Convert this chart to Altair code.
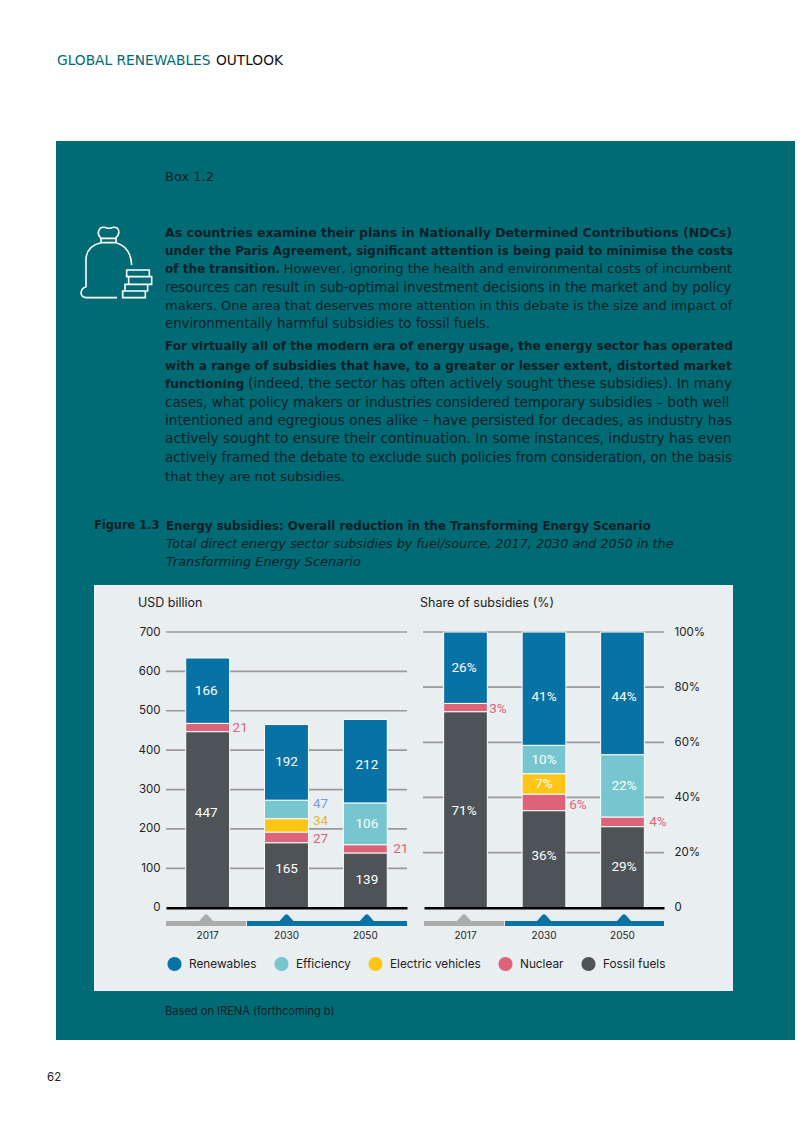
import altair as alt
import pandas as pd

# ---- chart values ----
years = ["2017", "2030", "2050"]
stack_order = ["Fossil fuels", "Nuclear", "Electric vehicles", "Efficiency", "Renewables"]
legend_order = ["Renewables", "Efficiency", "Electric vehicles", "Nuclear", "Fossil fuels"]
legend_colors = ["#0872A5", "#76C6CF", "#FDC515", "#DC6378", "#4D5357"]

usd_fossil = [447, 165, 139]
usd_nuclear = [21, 27, 21]
usd_ev = [0, 34, 0]
usd_efficiency = [0, 47, 106]
usd_renewables = [166, 192, 212]

share_fossil = [71.1, 35.2, 29.4]
share_nuclear = [3.0, 6.0, 3.5]
share_ev = [0, 7.4, 0]
share_efficiency = [0, 10.3, 22.6]
share_renewables = [25.9, 41.1, 44.5]

share_label_fossil = ["71%", "36%", "29%"]
share_label_nuclear = ["3%", "6%", "4%"]
share_label_ev = ["", "7%", ""]
share_label_efficiency = ["", "10%", "22%"]
share_label_renewables = ["26%", "41%", "44%"]

usd_ticks = [0, 100, 200, 300, 400, 500, 600, 700]
share_ticks = [0, 20, 40, 60, 80, 100]

# labels that sit beside the bar, with their own colour
usd_outside = {("2017", "Nuclear"): "#DC6378", ("2030", "Nuclear"): "#DC6378",
               ("2030", "Electric vehicles"): "#E8B62C", ("2030", "Efficiency"): "#7C9CC8",
               ("2050", "Nuclear"): "#DC6378"}
share_outside = {("2017", "Nuclear"): "#DC6378", ("2030", "Nuclear"): "#DC6378",
                 ("2050", "Nuclear"): "#DC6378"}
# how far a label stands from the middle of its segment, in axis units
usd_nudge = {("2017", "Fossil fuels"): 18, ("2030", "Fossil fuels"): 17, ("2030", "Nuclear"): -5,
             ("2030", "Electric vehicles"): 12, ("2030", "Efficiency"): 15, ("2050", "Renewables"): -10}
share_nudge = {("2030", "Renewables"): -3, ("2030", "Nuclear"): -1, ("2030", "Fossil fuels"): 1,
               ("2050", "Renewables"): -1.5, ("2017", "Fossil fuels"): -0.5, ("2017", "Nuclear"): -0.5}

header_a = "GLOBAL RENEWABLES"
header_b = "OUTLOOK"
box_title = "Box 1.2"
fig_no = "Figure 1.3"
fig_title = "Energy subsidies: Overall reduction in the Transforming Energy Scenario"
fig_sub = ["Total direct energy sector subsidies by fuel/source, 2017, 2030 and 2050 in the",
           "Transforming Energy Scenario"]
left_title = "USD billion"
right_title = "Share of subsidies  (%)"
source = "Based on IRENA (forthcoming b)"
page_no = "62"

body = [
    ("As countries examine their plans in Nationally Determined Contributions (NDCs)", "", True),
    ("under the Paris Agreement, significant attention is being paid to minimise the costs", "", True),
    ("of the transition.", "However, ignoring the health and environmental costs of incumbent", True),
    ("resources can result in sub-optimal investment decisions in the market and by policy", "", False),
    ("makers. One area that deserves more attention in this debate is the size and impact of", "", False),
    ("environmentally harmful subsidies to fossil fuels.", "", False),
    ("For virtually all of the modern era of energy usage, the energy sector has operated", "", True),
    ("with a range of subsidies that have, to a greater or lesser extent, distorted market", "", True),
    ("functioning", "(indeed, the sector has often actively sought these subsidies). In many", True),
    ("cases, what policy makers or industries considered temporary subsidies \u2013 both well", "", False),
    ("intentioned and egregious ones alike \u2013 have persisted for decades, as industry has", "", False),
    ("actively sought to ensure their continuation. In some instances, industry has even", "", False),
    ("actively framed the debate to exclude such policies from consideration, on the basis", "", False),
    ("that they are not subsidies.", "", False),
]
body_y = [232, 250, 268, 287, 305, 323, 345, 365, 383, 402, 420, 438, 457, 476]
body_size = [12.5, 11.94, 12.0, 13.3, 13.0, 13.25, 12.05, 12.07, 12.3, 13.5, 13.67, 13.75, 13.4, 13.1]
tail_size = {2: 13.1, 8: 13.6}

# ---- tables ----
def long_table(cols, labels, outside, nudge):
    rows = []
    for j, y in enumerate(years):
        base = 0
        for rank, s in enumerate(stack_order):
            v = cols[s][j]
            if v > 0:
                rows.append(dict(year=y, series=s, value=v, rank=rank, label=labels[s][j],
                                 at=base + v / 2 + nudge.get((y, s), 0),
                                 outside=(y, s) in outside, tint=outside.get((y, s), "#ffffff")))
            base += v
    return pd.DataFrame(rows)

usd_cols = dict(zip(stack_order, [usd_fossil, usd_nuclear, usd_ev, usd_efficiency, usd_renewables]))
share_cols = dict(zip(stack_order, [share_fossil, share_nuclear, share_ev, share_efficiency, share_renewables]))
usd_labels = {k: [str(x) for x in v] for k, v in usd_cols.items()}
share_labels = dict(zip(stack_order, [share_label_fossil, share_label_nuclear, share_label_ev,
                                      share_label_efficiency, share_label_renewables]))
usd_df = long_table(usd_cols, usd_labels, usd_outside, usd_nudge)
share_df = long_table(share_cols, share_labels, share_outside, share_nudge)

# ---- page layout (page pixels; the chart starts 8px in) ----
M = 8
W = 787
H = 1110
TEAL = "#006B74"
INK = "#0A1E28"
SANS = "Inter"
NARROW = "Roboto"
BODY = "DejaVu Sans"
blank = alt.Data(values=[{}])

def txt(s, x, y, size, color=INK, weight="normal", font=BODY, align="left", style="normal"):
    return alt.Chart(blank).mark_text(align=align, baseline="middle", fontSize=size, color=color,
                                      fontWeight=weight, font=font, fontStyle=style).encode(
        x=alt.value(x - M), y=alt.value(y + 1 - M), text=alt.value(s))

def box(x0, x1, y0, y1, color):
    return alt.Chart(blank).mark_rect(color=color).encode(
        x=alt.value(x0 - M), x2=alt.value(x1 - M), y=alt.value(y0 - M), y2=alt.value(y1 - M))

BAG = ("M135,235 C120,222 128,200 145,202 C155,206 162,206 172,202 C190,200 195,222 178,235 Z "
       "M135,235 L135,248 L180,248 L180,235 "
       "M135,248 C105,255 90,275 90,300 L90,380 C72,385 68,413 92,413 L183,413 "
       "M180,248 C205,255 225,275 227,315 "
       "M212,330 L280,330 L280,350 L212,350 Z M218,350 L287,350 L287,373 L218,373 Z "
       "M207,373 L275,373 L275,393 L207,393 Z M200,393 L268,393 L268,413 L200,413 Z")
PEAK = "M-1,1 L-0.2,0.1 Q0,0 0.2,0.1 L1,1 Z"

def panel(df, domain, x0, x1, axis, legend, grid_x0, grid_x1, ticks):
    xs = alt.Scale(domain=years, range=[x0 - M, x1 - M], paddingInner=0.443, paddingOuter=0.25)
    ys = alt.Scale(domain=domain, range=[907.7 - M, 632 - M], nice=False)
    grid = alt.Chart(pd.DataFrame({"tick": ticks[1:]})).mark_rule(color="#9A9A9A", strokeWidth=1.7).encode(
        y=alt.Y("tick:Q", scale=ys, axis=None),
        x=alt.value(grid_x0 - M), x2=alt.value(grid_x1 - M))
    bars = alt.Chart(df).mark_bar(stroke="white", strokeWidth=1).encode(
        x=alt.X("year:N", scale=xs, sort=years,
                axis=alt.Axis(title=None, labelAngle=0, ticks=False, domainColor="#000000", domainWidth=2.6,
                              orient="bottom", offset=907.7 - M - H, labelPadding=23, labelFont=SANS,
                              labelFontSize=10, labelColor="#222222", zindex=2)),
        y=alt.Y("value:Q", stack="zero", scale=ys, axis=axis),
        order=alt.Order("rank:Q"),
        color=alt.Color("series:N", scale=alt.Scale(domain=legend_order, range=legend_colors), legend=legend))
    inside = alt.Chart(df[~df.outside]).mark_text(font=NARROW, fontSize=13.5, baseline="middle", color="white").encode(
        x=alt.X("year:N", scale=xs, sort=years, axis=None),
        y=alt.Y("at:Q", scale=ys, axis=None), text="label:N")
    beside = alt.Chart(df[df.outside]).mark_text(font=NARROW, fontSize=13.5, baseline="middle", dx=34).encode(
        x=alt.X("year:N", scale=xs, sort=years, axis=None),
        y=alt.Y("at:Q", scale=ys, axis=None), text="label:N",
        color=alt.Color("tint:N", scale=None))
    strip_g = box(x0, x0 + 80, 921, 926, "#ABABAB")
    strip_b = box(x0 + 81, x1, 921, 926, "#0872A5")
    peaks = alt.Chart(pd.DataFrame({"year": years, "tint": ["#ABABAB", "#0872A5", "#0872A5"]})).mark_point(
        shape=PEAK, size=196, filled=True, opacity=1, strokeWidth=0).encode(
        x=alt.X("year:N", scale=xs, sort=years, axis=None), y=alt.value(914 - M),
        color=alt.Color("tint:N", scale=None))
    return [grid, strip_g, strip_b, peaks, bars, inside, beside]

left_axis = alt.Axis(title=None, values=usd_ticks, orient="left", offset=-152, domain=False, ticks=False, zindex=2,
                     labelPadding=0, grid=False, labelFont=SANS, labelFontSize=11.5, labelColor="#222222")
right_axis = alt.Axis(title=None, values=share_ticks, orient="right", offset=666 - W, domain=False, ticks=False, zindex=2,
                      labelPadding=0, grid=False, labelFont=SANS, labelFontSize=11.5, labelColor="#222222",
                      labelExpr="datum.value === 0 ? '0' : datum.value + '%'")
legend = alt.Legend(orient="none", legendX=167 - M, legendY=956.5 - M, direction="horizontal", title=None,
                    symbolType="circle", symbolSize=201, symbolStrokeWidth=0, labelFont=SANS, labelFontSize=11.8,
                    labelColor="#222222", columns=5, gridAlign="none", columnPadding=17, labelOffset=7)

layers = [
    box(56, 803, 141, 1040, TEAL),
    box(94, 733, 585, 991, "#E9EEF1"),
    txt(header_a, 57, 60, 13.75, color=TEAL),
    txt(header_b, 283, 60, 13.75, color="#111111", align="right"),
    txt(box_title, 165, 176, 13),
    alt.Chart(blank).mark_point(shape=BAG, size=0.4444, filled=False, stroke="white", strokeWidth=1.6, opacity=1).encode(
        x=alt.value(56 - M), y=alt.value(160 - M)),
]
for i, ((a, b, bold), y) in enumerate(zip(body, body_y)):
    layers.append(txt(a, 165, y, body_size[i], weight="bold" if bold else "normal"))
    if b:
        layers.append(txt(b, 732, y, tail_size[i], align="right"))
layers += [
    txt(fig_no, 94, 525, 11.4, weight="bold"),
    txt(fig_title, 166, 525, 11.8, weight="bold"),
    txt(fig_sub[0], 166, 543, 12.75, style="italic"),
    txt(fig_sub[1], 166, 561, 12.9, style="italic"),
    txt(left_title, 138, 602, 12.5, color="#222222", font=SANS),
    txt(right_title, 420, 602, 12.5, color="#222222", font=SANS),
    txt(source, 165, 1011, 11.1, font=SANS),
    txt(page_no, 47, 1077, 11.5, color="#222222", font=SANS),
]
layers += panel(usd_df, [0, 700], 166, 407, left_axis, legend, 166, 407, usd_ticks)
layers += panel(share_df, [0, 100], 424, 664, right_axis, None, 423, 664, share_ticks)

chart = alt.layer(*layers).resolve_scale(
    x="independent", y="independent", color="independent"
).resolve_axis(x="independent", y="independent").properties(
    width=W, height=H, padding=0, autosize=alt.AutoSizeParams(type="none"), background="white"
).configure_view(stroke=None)

chart.save("out.html", embed_options={"renderer": "svg", "actions": False})
